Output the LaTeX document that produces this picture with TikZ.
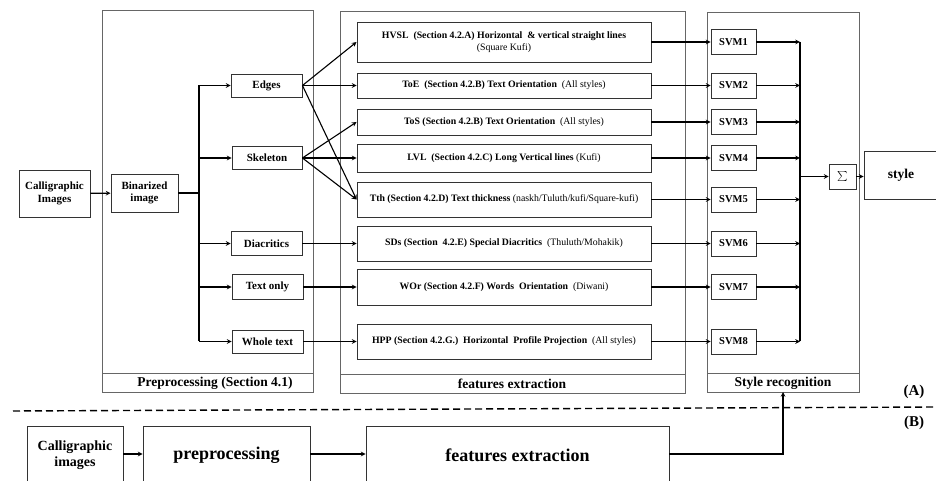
\documentclass[tikz,border=0pt]{standalone}
\usepackage{fontspec}
\setmainfont{Liberation Serif}
\usepackage{tikz}
\newcommand{\stylenote}[1]{{\mdseries #1}}

\begin{document}
\begin{tikzpicture}[
    x=1pt, y=1pt,
    box/.style={rectangle, draw=black!80, line width=0.9pt, align=center,
                inner sep=1pt, font=\fontsize{11}{12.5}\selectfont\bfseries},
    featbox/.style={box, minimum width=294,
                font=\fontsize{9.8}{11.5}\selectfont\bfseries},
    svm/.style={box, minimum width=45, minimum height=25,
                font=\fontsize{10.5}{12}\selectfont\bfseries},
    panel/.style={draw=black!60, line width=0.7pt},
    panellabel/.style={font=\fontsize{13.5}{15}\selectfont\bfseries},
    arrow/.style={->, >=stealth, line width=1.1pt},
    bus/.style={line width=1.3pt},
]
\clip (0,0) rectangle (936,481);

% panels
\draw[panel] (102,89) rectangle (313,470.5);
\draw[panel] (102,108) -- (313,108);
\node[panellabel] (prelabel) at (215,98) {Preprocessing (Section 4.1)};
\draw[panel] (340,88) rectangle (685.5,470);
\draw[panel] (340,107) -- (685.5,107);
\node[panellabel] (featlabel) at (512,97) {features extraction};
\draw[panel] (707,89) rectangle (859,469);
\draw[panel] (707,108) -- (859,108);
\node[panellabel] (reclabel) at (783,98) {Style recognition};

% (A) preprocessing
\node[box, minimum width=71, minimum height=47] (calig) at (54.5,287.5) {Calligraphic\\Images};
\node[box, minimum width=67, minimum height=38] (binar) at (144.5,288) {Binarized\\image};
\node[box, minimum width=71, minimum height=23] (edges) at (266.5,395.5) {Edges};
\node[box, minimum width=70, minimum height=23] (skel) at (267,323) {Skeleton};
\node[box, minimum width=71, minimum height=24] (diac) at (266.5,237.5) {Diacritics};
\node[box, minimum width=71, minimum height=25] (textonly) at (267.5,194) {Text only};
\node[box, minimum width=71, minimum height=23] (whole) at (267.5,139.5) {Whole text};

% features
\node[featbox, minimum height=40] (hvsl) at (504,439)
    {HVSL\ \ (Section 4.2.A) Horizontal\ \ \& vertical straight lines\\\stylenote{(Square Kufi)}};
\node[featbox, minimum height=25] (toe) at (504,395.5)
    {ToE\ \ (Section 4.2.B) Text Orientation\ \ \stylenote{(All styles)}};
\node[featbox, minimum height=26] (tos) at (504,359)
    {ToS (Section 4.2.B) Text Orientation\ \ \stylenote{(All styles)}};
\node[featbox, minimum height=28] (lvl) at (504,323)
    {LVL\ \ (Section 4.2.C) Long Vertical lines \stylenote{(Kufi)}};
\node[featbox, minimum height=35] (tth) at (504,281.5)
    {Tth (Section 4.2.D) Text thickness \stylenote{(naskh/Tuluth/kufi/Square-kufi)}};
\node[featbox, minimum height=35] (sds) at (504,237.5)
    {SDs (Section\ \ 4.2.E) Special Diacritics\ \ \stylenote{(Thuluth/Mohakik)}};
\node[featbox, minimum height=36] (wor) at (504,194)
    {WOr (Section 4.2.F) Words\ \ Orientation\ \ \stylenote{(Diwani)}};
\node[featbox, minimum height=35] (hpp) at (504,139.5)
    {HPP (Section 4.2.G.)\ \ Horizontal\ \ Profile Projection\ \ \stylenote{(All styles)}};

% classifiers
\node[svm] (svm1) at (733.5,439) {SVM1};
\node[svm] (svm2) at (733.5,395.5) {SVM2};
\node[svm] (svm3) at (733.5,359) {SVM3};
\node[svm] (svm4) at (733.5,323) {SVM4};
\node[svm] (svm5) at (733.5,281.5) {SVM5};
\node[svm] (svm6) at (733.5,237.5) {SVM6};
\node[svm] (svm7) at (733.5,194) {SVM7};
\node[svm] (svm8) at (733.5,139.5) {SVM8};
\node[box, minimum width=27, minimum height=25, font=\fontsize{13}{14}\selectfont] (sigma) at (842.5,304.5) {$\sum$};
\node[box, minimum width=74, minimum height=48, font=\fontsize{13.5}{15}\selectfont\bfseries] (style) at (901,306) {style};

% connectors (A)
\coordinate (pbus) at (199,288);
\coordinate (sbus) at (800,304.5);
\draw[arrow] (calig) -- (binar);
\draw[bus] (binar) -- (pbus);
\draw[bus] (pbus |- edges) -- (pbus |- whole);
\foreach \n in {edges,skel,diac,textonly,whole}
    \draw[arrow] (pbus |- \n) -- (\n);
\draw[arrow] (edges.east) -- (hvsl.west);
\draw[arrow] (edges.east) -- (toe.west);
\draw[arrow] (edges.east) -- (tth.west);
\draw[arrow] (skel.east) -- (tos.west);
\draw[arrow] (skel.east) -- (lvl.west);
\draw[arrow] (skel.east) -- (tth.west);
\draw[arrow] (diac) -- (sds);
\draw[arrow] (textonly) -- (wor);
\draw[arrow] (whole) -- (hpp);
\foreach \f/\s in {hvsl/svm1,toe/svm2,tos/svm3,lvl/svm4,tth/svm5,sds/svm6,wor/svm7,hpp/svm8}{
    \draw[arrow] (\f) -- (\s);
    \draw[arrow] (\s) -- (sbus |- \s);
}
\draw[bus] (sbus |- svm1) -- (sbus |- svm8);
\draw[arrow] (sbus) -- (sigma);
\draw[arrow] (sigma.east) -- (sigma.east -| style.west);

% separator
\draw[line width=1.4pt, dash pattern=on 7pt off 4pt] (13,70) -- (936,74);
\node[font=\fontsize{15}{16}\selectfont\bfseries] (lblA) at (914,89) {(A)};
\node[font=\fontsize{15}{16}\selectfont\bfseries] (lblB) at (914,58) {(B)};

% (B) short pipeline
\node[box, minimum width=96, minimum height=58, font=\fontsize{14}{15.5}\selectfont\bfseries] (calig2) at (75,26) {Calligraphic\\images};
\node[box, minimum width=167, minimum height=58, font=\fontsize{18}{20}\selectfont\bfseries] (pre2) at (226.5,26) {preprocessing};
\node[box, minimum width=303, minimum height=58, font=\fontsize{18}{20}\selectfont\bfseries] (feat2) at (517.5,26) {features extraction};
\coordinate (turn) at (783,27);
\draw[arrow] (calig2.east |- turn) -- (pre2.west |- turn);
\draw[arrow] (pre2.east |- turn) -- (feat2.west |- turn);
\draw[arrow] (feat2.east |- turn) -- (turn) -- (783,89);
\end{tikzpicture}
\end{document}
